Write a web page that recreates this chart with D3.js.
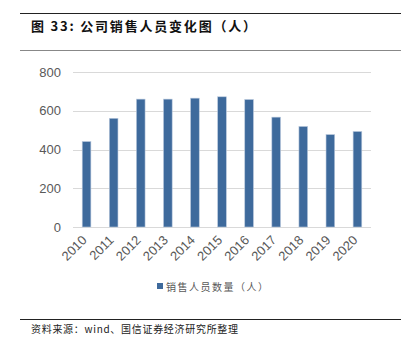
<!DOCTYPE html>
<html>
<head>
<meta charset="utf-8">
<script src="https://cdn.jsdelivr.net/npm/d3@7"></script>
<style>
  html, body { margin: 0; padding: 0; background: #fff; }
  svg { display: block; }
</style>
</head>
<body>
<div id="chart"></div>
<script>
// Sales headcount by year
const years = ["2010","2011","2012","2013","2014","2015","2016","2017","2018","2019","2020"];
const salesStaff = [441, 561, 660, 660, 665, 672, 658, 567, 519, 477, 493];
const yTicks = [0, 200, 400, 600, 800];

const titleText = "图 33:  公司销售人员变化图（人）";
const legendText = "销售人员数量（人）";
const sourceText = "资料来源：wind、国信证券经济研究所整理";

const W = 418, H = 348;
const cjk = "'Noto Sans CJK SC', 'Noto Sans', sans-serif";
const latin = "'Liberation Sans', Arial, sans-serif";

const svg = d3.select("#chart").append("svg")
  .attr("width", W).attr("height", H);

// header and footer rules
svg.append("line").attr("x1", 20).attr("x2", 401).attr("y1", 13.5).attr("y2", 13.5)
  .attr("stroke", "#222").attr("stroke-width", 1);
svg.append("line").attr("x1", 20).attr("x2", 401).attr("y1", 50.5).attr("y2", 50.5)
  .attr("stroke", "#888").attr("stroke-width", 1.2);
svg.append("line").attr("x1", 20).attr("x2", 401).attr("y1", 319.5).attr("y2", 319.5)
  .attr("stroke", "#222").attr("stroke-width", 1);

svg.append("text").attr("x", 31).attr("y", 31)
  .attr("font-family", cjk).attr("font-size", 13).attr("font-weight", "bold")
  .attr("letter-spacing", 1.8)
  .attr("fill", "#111").text(titleText);

svg.append("text").attr("x", 31).attr("y", 333)
  .attr("font-family", cjk).attr("font-size", 10)
  .attr("letter-spacing", 0.7)
  .attr("fill", "#222").text(sourceText);

// plot area
const plot = { left: 73, right: 371, top: 72, bottom: 227 };

const x = d3.scaleBand().domain(years)
  .range([plot.left, plot.right]).paddingInner(0.68).paddingOuter(0.34);
const y = d3.scaleLinear().domain([0, 800]).range([plot.bottom, plot.top]);

// gridlines
svg.append("g").selectAll("line").data(yTicks).join("line")
  .attr("x1", plot.left).attr("x2", plot.right)
  .attr("y1", d => Math.round(y(d)) + 0.5).attr("y2", d => Math.round(y(d)) + 0.5)
  .attr("stroke", "#d9d9d9").attr("stroke-width", 1);

// y axis labels
const yAxis = d3.axisLeft(y).tickValues(yTicks).tickSize(0).tickPadding(0);
const gy = svg.append("g").attr("transform", `translate(${plot.left - 12},0)`).call(yAxis);
gy.select(".domain").remove();
gy.selectAll("text").attr("font-family", latin).attr("font-size", 13)
  .attr("fill", "#595959");

// bars
svg.append("g").selectAll("rect").data(years).join("rect")
  .attr("x", d => x(d))
  .attr("width", x.bandwidth())
  .attr("y", (d, i) => y(salesStaff[i]))
  .attr("height", (d, i) => y(0) - y(salesStaff[i]))
  .attr("fill", "#3e6a9c")
  .attr("stroke", "#b9c9dd").attr("stroke-width", 0.6);

// x axis labels, rotated
const xAxis = d3.axisBottom(x).tickSize(0).tickPadding(0);
const gx = svg.append("g").attr("transform", `translate(0,${plot.bottom})`).call(xAxis);
gx.select(".domain").remove();
gx.selectAll("text")
  .attr("font-family", latin).attr("font-size", 13).attr("fill", "#595959")
  .attr("text-anchor", "end")
  .attr("y", 0)
  .attr("dy", null)
  .attr("transform", "translate(1,14) rotate(-45)");

// legend
const lg = svg.append("g");
lg.append("rect").attr("x", 157).attr("y", 283).attr("width", 6).attr("height", 6)
  .attr("fill", "#3e6a9c");
lg.append("text").attr("x", 166).attr("y", 290.5)
  .attr("font-family", cjk).attr("font-size", 10).attr("fill", "#595959")
  .attr("letter-spacing", 1.5).text(legendText);
</script>
</body>
</html>
